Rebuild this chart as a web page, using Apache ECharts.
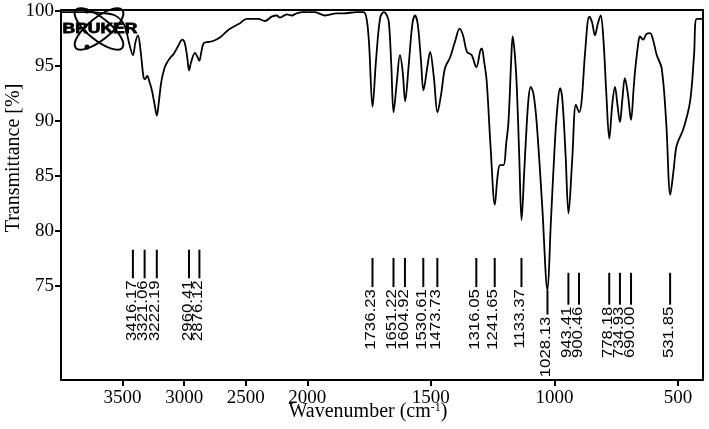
<!DOCTYPE html>
<html><head><meta charset="utf-8">
<script src="https://cdn.jsdelivr.net/npm/echarts@6/dist/echarts.min.js"></script>
<style>html,body{margin:0;padding:0;background:#fff}#c{width:709px;height:429px}</style>
</head><body><div id="c"></div>
<script>
// ---- data ----
const wavenumbers = [
  4000, 3800, 3650, 3560, 3500, 3470, 3445, 3416, 3395, 3375,
  3355, 3330, 3318, 3300, 3280, 3262, 3240, 3222, 3205, 3185,
  3160, 3140, 3110, 3085, 3050, 3015, 2995, 2975, 2960, 2945,
  2912, 2895, 2877, 2860, 2840, 2800, 2760, 2710, 2660, 2628,
  2546, 2492, 2440, 2398, 2344, 2289, 2248, 2222, 2167, 2127,
  2086, 2033, 2000, 1969, 1928, 1881, 1854, 1800, 1773, 1760,
  1750, 1736, 1722, 1705, 1690, 1680, 1670, 1660, 1651, 1638,
  1625, 1614, 1604, 1590, 1575, 1564, 1553, 1540, 1530, 1515,
  1503, 1488, 1473, 1458, 1443, 1422, 1400, 1384, 1370, 1354,
  1335, 1316, 1300, 1294, 1285, 1274, 1258, 1241, 1230, 1220,
  1206, 1195, 1186, 1175, 1169, 1160, 1152, 1142, 1133, 1122,
  1115, 1105, 1096, 1085, 1072, 1050, 1028, 1015, 997, 985,
  977, 968, 955, 943, 928, 913, 900, 890, 875, 859,
  848, 836, 825, 813, 802, 790, 778, 766, 755, 745,
  735, 725, 715, 703, 690, 680, 674, 660, 654, 641,
  628, 613, 600, 586, 566, 548, 531, 518, 505, 478,
  451, 435, 424, 400
];
const transmittance = [
  99.9, 99.9, 99.8, 99.6, 99.0, 98.2, 97.0, 96.0, 97.2, 97.8,
  96.5, 94.0, 93.8, 94.1, 93.5, 92.8, 91.5, 90.5, 91.8, 93.6,
  94.8, 95.3, 95.8, 96.1, 96.8, 97.4, 97.1, 95.8, 94.6, 95.3,
  96.2, 95.9, 95.5, 96.3, 97.1, 97.2, 97.3, 97.6, 98.1, 98.4,
  98.9, 99.3, 99.3, 99.3, 99.1, 99.5, 99.6, 99.4, 99.7, 99.6,
  99.8, 99.9, 99.9, 99.9, 99.6, 99.8, 99.8, 99.9, 99.9, 99.3,
  97.0, 91.3, 95.5, 99.4, 99.9, 99.7, 99.0, 95.0, 90.8, 93.5,
  96.0, 94.5, 91.8, 95.0, 98.8, 99.6, 98.8, 95.5, 92.8, 94.8,
  96.3, 94.0, 90.8, 92.5, 94.8, 95.8, 97.4, 98.4, 97.8, 96.3,
  96.0, 94.9, 96.4, 96.6, 95.5, 93.6, 87.5, 82.4, 85.0, 86.0,
  86.0, 88.0, 89.9, 95.5, 97.7, 96.0, 93.0, 86.5, 81.0, 85.5,
  88.5, 92.0, 93.1, 92.5, 89.9, 82.5, 74.6, 80.5, 88.5, 92.0,
  93.0, 92.0, 87.0, 81.6, 86.5, 91.5, 90.8, 91.8, 96.5, 99.5,
  99.0, 97.8, 98.8, 99.6, 97.5, 92.5, 88.4, 91.5, 93.1, 91.5,
  89.9, 92.0, 93.9, 92.5, 90.1, 92.8, 94.5, 97.2, 97.7, 97.4,
  97.9, 98.0, 97.3, 96.0, 94.8, 90.0, 83.3, 85.5, 87.8, 89.3,
  91.8, 96.0, 99.3, 99.3
];
const peakWavenumbers = [3416.17, 3321.06, 3222.19, 2960.41, 2876.12,
  1736.23, 1651.22, 1604.92, 1530.61, 1473.73, 1316.05, 1241.65, 1133.37,
  1028.13, 943.41, 900.46, 778.18, 734.93, 690.00, 531.85];
const peakLabels = ['3416.17', '3321.06', '3222.19', '2960.41', '2876.12',
  '1736.23', '1651.22', '1604.92', '1530.61', '1473.73', '1316.05', '1241.65', '1133.37',
  '1028.13', '943.41', '900.46', '778.18', '734.93', '690.00', '531.85'];
const xTicksHigh = [3500, 3000, 2500];
const xTicksLow = [2000, 1500, 1000, 500];
const yTicks = [100, 95, 90, 85, 80, 75];
const xTitle = 'Wavenumber (cm';
const xTitleSup = '-1';
const yTitle = 'Transmittance [%]';

// ---- layout (marker tiers in axis units) ----
const TIERS = { A: [78.3, 75.7], B: [77.55, 74.9], C: [76.2, 73.3], D: [74.6, 72.4] };
const peakTier = ['A','A','A','A','A','B','B','B','B','B','B','B','B','D','C','C','C','C','C','C'];
const Y_MIN = 66.45, Y_MAX = 100.1;
const SERIF = '"Liberation Serif", "Times New Roman", serif';
const SANS = '"Liberation Sans", Arial, sans-serif';

const high = [], low = [];
wavenumbers.forEach((w, i) => {
  if (w >= 2000) high.push([w, transmittance[i]]);
  if (w <= 2000) low.push([w, transmittance[i]]);
});

function peakSeries(axisIdx, test) {
  const data = [];
  peakWavenumbers.forEach((w, i) => {
    if (test(w)) { const t = TIERS[peakTier[i]]; data.push([w, t[0], t[1], i]); }
  });
  return {
    type: 'custom', xAxisIndex: axisIdx, yAxisIndex: axisIdx, data: data,
    encode: { x: 0, y: [1, 2] }, silent: true, z: 5,
    renderItem: function (params, api) {
      const w = api.value(0);
      const p1 = api.coord([w, api.value(1)]);
      const p2 = api.coord([w, api.value(2)]);
      const idx = api.value(3);
      return {
        type: 'group',
        children: [
          { type: 'line', shape: { x1: p1[0], y1: p1[1], x2: p2[0], y2: p2[1] },
            style: { stroke: '#000', lineWidth: 2 } },
          { type: 'text', x: p2[0] - 1.5, y: p2[1] + 2, rotation: Math.PI / 2, scaleX: 1.12,
            style: { text: peakLabels[idx], font: '15px ' + SANS, fill: '#000',
                     align: 'right', verticalAlign: 'middle' } }
        ]
      };
    }
  };
}

const axisLineStyle = { show: true, onZero: false, lineStyle: { color: '#000', width: 2 } };
const tickLabel = { color: '#000', fontSize: 19, fontFamily: SERIF, formatter: v => String(v) };

const option = {
  animation: false,
  backgroundColor: '#fff',
  grid: [
    { left: 61, top: 10, width: 246.3, height: 370 },
    { left: 307.3, top: 10, width: 395.4, height: 370 }
  ],
  xAxis: [
    { type: 'value', gridIndex: 0, min: 2000, max: 4000, inverse: true, position: 'bottom',
      axisLine: axisLineStyle,
      axisTick: { show: true, customValues: xTicksHigh, length: 6, lineStyle: { color: '#000', width: 2 } },
      axisLabel: Object.assign({ customValues: xTicksHigh, margin: 9 }, tickLabel),
      splitLine: { show: false } },
    { type: 'value', gridIndex: 1, min: 400, max: 2000, inverse: true, position: 'bottom',
      axisLine: axisLineStyle,
      axisTick: { show: true, customValues: xTicksLow, length: 6, lineStyle: { color: '#000', width: 2 } },
      axisLabel: Object.assign({ customValues: xTicksLow, margin: 9 }, tickLabel),
      splitLine: { show: false } },
    { type: 'value', gridIndex: 0, min: 2000, max: 4000, inverse: true, position: 'top',
      axisLine: axisLineStyle, axisTick: { show: false }, axisLabel: { show: false }, splitLine: { show: false } },
    { type: 'value', gridIndex: 1, min: 400, max: 2000, inverse: true, position: 'top',
      axisLine: axisLineStyle, axisTick: { show: false }, axisLabel: { show: false }, splitLine: { show: false } }
  ],
  yAxis: [
    { type: 'value', gridIndex: 0, min: Y_MIN, max: Y_MAX, position: 'left',
      axisLine: axisLineStyle,
      axisTick: { show: true, customValues: yTicks, length: 6, lineStyle: { color: '#000', width: 2 } },
      axisLabel: Object.assign({ customValues: yTicks, margin: 7 }, tickLabel),
      splitLine: { show: false } },
    { type: 'value', gridIndex: 1, min: Y_MIN, max: Y_MAX, position: 'right',
      axisLine: axisLineStyle, axisTick: { show: false }, axisLabel: { show: false }, splitLine: { show: false } }
  ],
  series: [
    { type: 'line', xAxisIndex: 0, yAxisIndex: 0, data: high, showSymbol: false, smooth: 0.35,
      lineStyle: { color: '#000', width: 1.8 }, silent: true, z: 3 },
    { type: 'line', xAxisIndex: 1, yAxisIndex: 1, data: low, showSymbol: false, smooth: 0.35,
      lineStyle: { color: '#000', width: 1.8 }, silent: true, z: 3 },
    peakSeries(0, w => w >= 2000),
    peakSeries(1, w => w < 2000)
  ],
  graphic: [
    { type: 'text', x: 14, y: 158, rotation: Math.PI / 2,
      style: { text: yTitle, font: '20px ' + SERIF, fill: '#000', align: 'center', verticalAlign: 'middle' } },
    { type: 'text', x: 368, y: 412,
      style: {
        text: '{a|' + xTitle + '}{s|' + xTitleSup + '}{a|)}',
        align: 'center', verticalAlign: 'middle',
        rich: {
          a: { fontSize: 20, fontFamily: SERIF, fill: '#000', color: '#000' },
          s: { fontSize: 12, fontFamily: SERIF, fill: '#000', color: '#000', padding: [0, 0, 9, 0] }
        }
      } },
    { type: 'group', z: 100, children: [
      { type: 'ellipse', x: 99, y: 29, rotation: 0.68, shape: { cx: 0, cy: 0, rx: 30, ry: 11 },
        style: { fill: 'none', stroke: '#000', lineWidth: 2 } },
      { type: 'ellipse', x: 99, y: 29, rotation: -0.68, shape: { cx: 0, cy: 0, rx: 30, ry: 11 },
        style: { fill: 'none', stroke: '#000', lineWidth: 2 } },
      { type: 'circle', shape: { cx: 87, cy: 11, r: 2.5 }, style: { fill: '#000' } },
      { type: 'circle', shape: { cx: 87, cy: 47, r: 2.5 }, style: { fill: '#000' } },
      { type: 'text', x: 100, y: 29, scaleX: 1.25,
        style: { text: 'BRUKER', font: 'bold 14px ' + SANS, fill: '#000', stroke: '#000', lineWidth: 0.8,
                 align: 'center', verticalAlign: 'middle' } }
    ] }
  ]
};
echarts.init(document.getElementById('c'), null, { renderer: 'canvas' }).setOption(option);
</script>
</body></html>
